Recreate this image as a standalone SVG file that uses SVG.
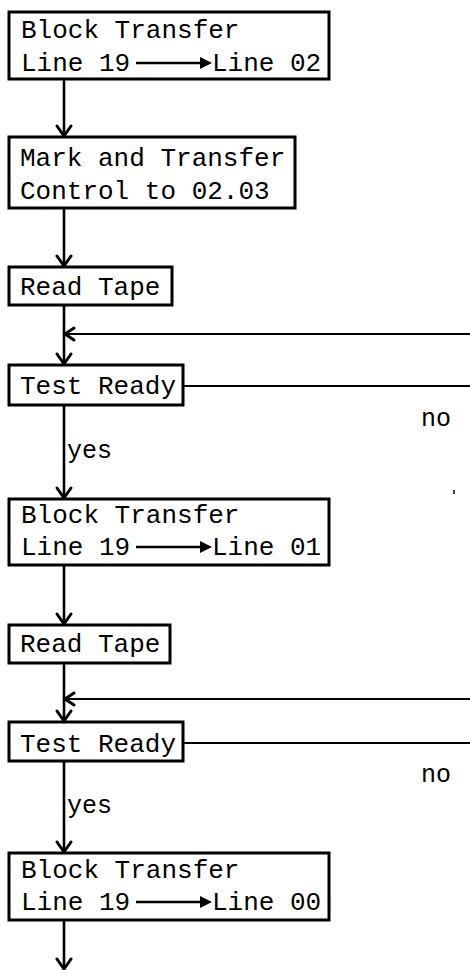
<svg xmlns="http://www.w3.org/2000/svg" width="470" height="970" viewBox="0 0 470 970">
<style>
.box{fill:#fff;stroke:#000;stroke-width:3}
.t{font-family:"Liberation Mono","Courier New",monospace;font-size:26px;fill:#000}
.lbl{font-family:"Liberation Mono","Courier New",monospace;font-size:25px;fill:#000}
.ln{fill:none;stroke:#000;stroke-width:2.6}
.lh{fill:none;stroke:#000;stroke-width:2.2}
.hd{fill:none;stroke:#000;stroke-width:3;stroke-linecap:round;stroke-linejoin:miter}
.ia{fill:none;stroke:#000;stroke-width:2.4}
.ih{fill:#000;stroke:none}
</style>
<rect width="470" height="970" fill="#fff"/>
<g id="connectors">
<line class="ln" x1="64" y1="79" x2="64" y2="136"/>
<path class="hd" d="M57,126 L64,136 L71,126"/>
<line class="ln" x1="64" y1="208" x2="64" y2="266"/>
<path class="hd" d="M57,256 L64,266 L71,256"/>
<line class="ln" x1="64" y1="305" x2="64" y2="364"/>
<path class="hd" d="M57,354 L64,364 L71,354"/>
<line class="lh" x1="65" y1="334" x2="470" y2="334"/>
<path class="hd" d="M74,328 L65,334 L74,340"/>
<line class="lh" x1="183" y1="386" x2="470" y2="386"/>
<line class="ln" x1="64" y1="405" x2="64" y2="498"/>
<path class="hd" d="M57,488 L64,498 L71,488"/>
<line class="ln" x1="64" y1="565" x2="64" y2="624"/>
<path class="hd" d="M57,614 L64,624 L71,614"/>
<line class="ln" x1="64" y1="663" x2="64" y2="721"/>
<path class="hd" d="M57,711 L64,721 L71,711"/>
<line class="lh" x1="65" y1="699" x2="470" y2="699"/>
<path class="hd" d="M74,693 L65,699 L74,705"/>
<line class="lh" x1="183" y1="743" x2="470" y2="743"/>
<line class="ln" x1="64" y1="761" x2="64" y2="852"/>
<path class="hd" d="M57,842 L64,852 L71,842"/>
<line class="ln" x1="64" y1="920" x2="64" y2="969"/>
<path class="hd" d="M57,959 L64,969 L71,959"/>
<text class="lbl" x="421" y="426">no</text>
<text class="lbl" x="67" y="458">yes</text>
<text class="lbl" x="421" y="782">no</text>
<text class="lbl" x="67" y="813">yes</text>
<line x1="454" y1="490" x2="454" y2="494" stroke="#000" stroke-width="1.5"/>
</g>
<g id="n1">
<rect class="box" x="9" y="12" width="320" height="67"/>
<text class="t" x="21" y="38">Block Transfer</text>
<text class="t" x="21" y="71">Line 19</text>
<line class="ia" x1="136" y1="63" x2="202" y2="63"/>
<path class="ih" d="M200,57 L212,63 L200,69 Z"/>
<text class="t" x="212" y="71">Line 02</text>
</g>
<g id="n2">
<rect class="box" x="9" y="137" width="286" height="71"/>
<text class="t" x="20" y="166">Mark and Transfer</text>
<text class="t" x="20" y="199">Control to 02.03</text>
</g>
<g id="n3">
<rect class="box" x="9" y="267" width="163" height="38"/>
<text class="t" x="20" y="295">Read Tape</text>
</g>
<g id="n4">
<rect class="box" x="9" y="365" width="174" height="40"/>
<text class="t" x="20" y="394">Test Ready</text>
</g>
<g id="n5">
<rect class="box" x="9" y="499" width="320" height="66"/>
<text class="t" x="21" y="523">Block Transfer</text>
<text class="t" x="21" y="555">Line 19</text>
<line class="ia" x1="136" y1="547" x2="202" y2="547"/>
<path class="ih" d="M200,541 L212,547 L200,553 Z"/>
<text class="t" x="212" y="555">Line 01</text>
</g>
<g id="n6">
<rect class="box" x="9" y="625" width="161" height="38"/>
<text class="t" x="20" y="652">Read Tape</text>
</g>
<g id="n7">
<rect class="box" x="9" y="722" width="174" height="39"/>
<text class="t" x="20" y="752">Test Ready</text>
</g>
<g id="n8">
<rect class="box" x="9" y="853" width="320" height="67"/>
<text class="t" x="21" y="878">Block Transfer</text>
<text class="t" x="21" y="910">Line 19</text>
<line class="ia" x1="136" y1="902" x2="202" y2="902"/>
<path class="ih" d="M200,896 L212,902 L200,908 Z"/>
<text class="t" x="212" y="910">Line 00</text>
</g>
</svg>
